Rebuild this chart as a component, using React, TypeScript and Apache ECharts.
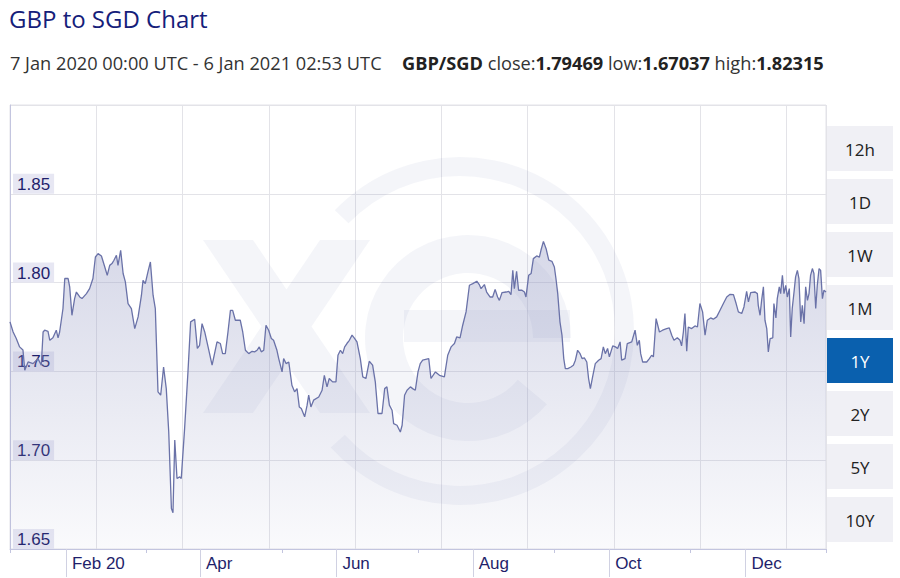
import React, { useEffect, useRef } from "react";
import * as echarts from "echarts";

// Days since 7 Jan 2020 00:00 UTC
const days = [
  0, 1.4, 2.8, 4.3, 5.8, 6.6, 8.1, 10.3, 12.5, 14.0, 14.8, 15.5, 17.0, 17.8, 19.2, 20.7, 21.5, 22.2,
  23.7, 24.5, 26.0, 26.7, 27.7, 28.9, 29.7, 31.2, 32.2, 34.2, 35.6, 37.1, 38.2, 39.4, 40.9, 42.4,
  43.5, 44.6, 45.6, 46.5, 47.6, 48.3, 49.5, 50.6, 51.6, 52.8, 54.3, 55.8, 57.3, 58.8, 59.5, 60.5,
  61.7, 62.8, 64.0, 65.0, 66.2, 67.4, 68.7, 69.9, 71.0, 72.2, 72.9, 73.7, 74.7, 75.9, 76.6, 78.1,
  79.6, 80.8, 82.6, 83.8, 84.8, 85.9, 87.1, 88.6, 90.4,
  92.6, 94.1, 95.1, 96.3, 97.5, 98.6, 99.6, 100.8, 103.0, 104.1, 105.3, 106.8, 108.3, 109.4, 110.5,
  111.5, 112.4, 113.5, 114.5, 115.7, 116.9, 117.9, 119.4, 120.2, 121.7, 122.4, 123.5, 124.7, 126.1,
  127.3, 128.4, 129.4, 130.3, 131.8, 132.9, 133.6, 134.6, 135.8, 138.1, 139.6, 140.6, 141.8, 142.8,
  144.3, 145.8, 146.7, 147.8, 148.8, 149.7, 150.7, 151.8, 153.0, 154.2, 155.2, 156.7, 157.8, 159.2,
  160.7, 162.2, 163.4, 164.6, 166.4, 167.6, 168.6, 169.7, 170.9, 171.6, 173.1, 174.6, 175.4, 176.5,
  177.6, 179.1, 180.1, 181.3,
  182.5, 183.5, 184.6, 187.3, 188.3, 190.3, 192.1, 194.3, 195.8, 197.3, 198.8, 199.8, 201.3, 202.5,
  204.0, 205.5, 207.0, 208.8, 209.9, 210.7, 212.2, 213.2, 214.7, 215.9, 217.0, 218.1, 218.9, 220.1,
  221.9, 223.1, 224.1, 224.9, 225.6, 226.6, 227.5, 229.0, 230.1, 230.8, 232.0, 233.1, 234.1, 235.6,
  236.8, 237.5, 238.6, 239.8, 241.0, 242.4, 243.5, 244.2, 245.0, 246.0, 246.9, 247.7, 248.4, 249.5,
  250.9, 252.0, 252.9, 253.9, 255.0, 255.9, 256.9, 258.0, 258.8, 259.6, 260.6, 261.8, 263.3, 264.4,
  265.4, 266.3, 267.3, 268.1, 269.6, 270.8, 271.8, 272.9,
  273.6, 275.1, 276.1, 278.1, 279.6, 280.6, 281.5, 282.1, 283.0, 284.8, 286.0, 287.0, 287.8, 289.0,
  290.5, 291.9, 293.7, 294.9, 296.0, 297.0, 298.5, 299.7, 300.4, 301.2, 301.9, 302.7, 303.4, 304.9,
  306.4, 307.5, 308.6, 309.8, 310.9, 311.9, 313.4, 314.6, 316.1, 317.6, 319.1, 320.6, 322.1, 323.6,
  324.8, 325.8, 327.3, 328.3, 329.5, 330.3, 331.3, 333.3, 334.3, 334.7, 335.5, 336.2, 337.0, 337.7,
  338.5, 339.2, 340.0, 341.2, 341.7, 342.6, 343.2, 344.1, 344.7, 345.5, 346.2, 347.0, 347.7, 348.6,
  349.2, 349.9, 350.7, 351.4, 352.2, 352.9, 353.7, 354.4, 355.2, 355.9, 356.7, 357.4, 358.1, 358.9,
  359.6, 360.4, 361.1, 361.9, 362.6, 363.4, 364.1, 365.0,
];

const rates = [
  1.7779, 1.7722, 1.7685, 1.7638, 1.762, 1.7507, 1.7553, 1.7544, 1.7572, 1.7535, 1.7722, 1.7732, 1.7726, 1.7675, 1.7689, 1.7732, 1.7689, 1.7722,
  1.7854, 1.8023, 1.8023, 1.7976, 1.7816, 1.791, 1.7947, 1.7919, 1.791, 1.7938, 1.7966, 1.8023, 1.8144, 1.8163, 1.815, 1.8088,
  1.8041, 1.8097, 1.8107, 1.8126, 1.8154, 1.8097, 1.8182, 1.8051, 1.8004, 1.7882, 1.7854, 1.7741, 1.7807, 1.7929, 1.8013, 1.7994,
  1.806, 1.8116, 1.7929, 1.7854, 1.7385, 1.7366, 1.7525, 1.7403, 1.716, 1.6728, 1.6704, 1.7113, 1.6897, 1.6906, 1.6897, 1.7178,
  1.7497, 1.7779, 1.7794, 1.7629, 1.7647, 1.7769, 1.7722, 1.7638, 1.7535,
  1.7666, 1.7657, 1.76, 1.76, 1.7722, 1.7844, 1.7844, 1.7788, 1.7788, 1.7722, 1.7619, 1.76, 1.7613, 1.761, 1.7619,
  1.7638, 1.761, 1.7619, 1.776, 1.7732, 1.7685, 1.7675, 1.7619, 1.7572, 1.7497, 1.7572, 1.7544, 1.7553, 1.7422,
  1.7385, 1.7403, 1.73, 1.7291, 1.7244, 1.731, 1.7366, 1.73, 1.7338, 1.7356, 1.7394, 1.7478, 1.7413, 1.746,
  1.7441, 1.7441, 1.7591, 1.7619, 1.76, 1.7638, 1.7657, 1.7675, 1.7704, 1.7685, 1.7666, 1.7572, 1.7469, 1.746,
  1.7557, 1.7535, 1.7441, 1.7263, 1.7263, 1.7403, 1.7413, 1.731, 1.7281, 1.7206, 1.7197, 1.7159, 1.7197, 1.7366,
  1.7394, 1.7413, 1.7403, 1.7394,
  1.7497, 1.7544, 1.7563, 1.7572, 1.746, 1.7497, 1.7478, 1.7469, 1.7591, 1.7638, 1.7657, 1.7694, 1.7689, 1.776,
  1.7835, 1.7985, 1.7994, 1.8008, 1.7989, 1.7966, 1.7989, 1.7947, 1.7919, 1.7919, 1.7962, 1.7919, 1.79, 1.7944,
  1.7947, 1.7951, 1.7932, 1.8069, 1.7966, 1.8064, 1.7957, 1.7957, 1.7947, 1.7919, 1.8041, 1.8051, 1.8135, 1.815,
  1.8144, 1.8182, 1.8232, 1.8191, 1.8126, 1.812, 1.8088, 1.8023, 1.7938, 1.7779, 1.7704, 1.7572, 1.7516, 1.7516,
  1.7525, 1.7535, 1.7563, 1.7619, 1.76, 1.7572, 1.7576, 1.7553, 1.746, 1.7403, 1.7469, 1.7544, 1.7563, 1.7572,
  1.7638, 1.76, 1.7629, 1.7582, 1.7644, 1.7638, 1.7629, 1.7666,
  1.7563, 1.7572, 1.7657, 1.7666, 1.7732, 1.7647, 1.7675, 1.76, 1.7553, 1.7553, 1.7572, 1.7591, 1.7582, 1.7797,
  1.7722, 1.7732, 1.7741, 1.7745, 1.7704, 1.7675, 1.7689, 1.7675, 1.7644, 1.7722, 1.7826, 1.7613, 1.775, 1.7741,
  1.7756, 1.775, 1.7882, 1.7835, 1.7704, 1.7788, 1.7801, 1.7794, 1.7807, 1.7844, 1.7882, 1.7919, 1.7934, 1.7932,
  1.7882, 1.7835, 1.7826, 1.7863, 1.7951, 1.7891, 1.7944, 1.7947, 1.7938, 1.7872, 1.7816, 1.79, 1.7976, 1.7788,
  1.7741, 1.761, 1.7685, 1.7689, 1.7882, 1.7801, 1.791, 1.7976, 1.7938, 1.8041, 1.7938, 1.7985, 1.7919, 1.7966,
  1.7694, 1.7854, 1.7947, 1.8032, 1.8069, 1.8023, 1.7779, 1.7872, 1.7769, 1.7976, 1.79, 1.7938, 1.8041, 1.8079,
  1.8051, 1.7854, 1.7985, 1.8079, 1.8069, 1.791, 1.7957, 1.7947,
];

const monthTickDays = [25, 85, 146, 207, 268, 329];
const monthLabels = ["Feb 20", "Apr", "Jun", "Aug", "Oct", "Dec"];
const rangeButtons = ["12h", "1D", "1W", "1M", "1Y", "2Y", "5Y", "10Y"];
const selectedRange = "1Y";

const TITLE = "GBP to SGD Chart";
const PERIOD = "7 Jan 2020 00:00 UTC - 6 Jan 2021 02:53 UTC";
const PAIR = "GBP/SGD";
const CLOSE = "1.79469";
const LOW = "1.67037";
const HIGH = "1.82315";

export default function App() {
  const ref = useRef<HTMLDivElement>(null);

  useEffect(() => {
    if (!ref.current) return;
    const chart = echarts.init(ref.current, null, { renderer: "svg" });
    const wm = "rgba(90,100,160,0.065)";
    const deg = Math.PI / 180;

    const buttons: any[] = [];
    rangeButtons.forEach((b, i) => {
      const y = 126 + i * 53;
      const sel = b === selectedRange;
      buttons.push({
        type: "rect",
        shape: { x: 827, y, width: 66, height: 45 },
        style: { fill: sel ? "#0a60ae" : "#f0f0f5" },
        z: 10,
      });
      buttons.push({
        type: "text",
        x: 860,
        y: y + 23,
        style: {
          text: b,
          align: "center",
          verticalAlign: "middle",
          fontSize: 17,
          fontFamily: "Open Sans",
          fill: sel ? "#ffffff" : "#222222",
        },
        z: 11,
      });
    });

    chart.setOption({
      animation: false,
      title: [
        {
          text: TITLE,
          left: 9,
          top: 6,
          padding: 0,
          textStyle: { fontSize: 24, fontWeight: "normal", color: "#15207a", fontFamily: "Open Sans" },
        },
        {
          text: PERIOD,
          left: 10,
          top: 54,
          padding: 0,
          textStyle: { fontSize: 18.2, fontWeight: "normal", color: "#333333", fontFamily: "Open Sans" },
        },
        {
          text: `{b|${PAIR}} close:{b|${CLOSE}} low:{b|${LOW}} high:{b|${HIGH}}`,
          left: 402,
          top: 54,
          padding: 0,
          textStyle: {
            fontSize: 18.2,
            fontWeight: "normal",
            color: "#333333",
            fontFamily: "Open Sans",
            rich: {
              b: { fontSize: 18.2, fontWeight: "bold", color: "#222222", fontFamily: "Open Sans" },
            },
          },
        },
      ],
      grid: {
        left: 10,
        right: 74,
        top: 105,
        bottom: 29,
        show: true,
        borderColor: "#e3e3e8",
        borderWidth: 1,
        backgroundColor: "transparent",
      },
      xAxis: [
        {
          type: "value",
          min: 0,
          max: 365,
          position: "bottom",
          axisLine: { show: true, lineStyle: { color: "#c3c5df", width: 1 } },
          axisTick: {
            show: true,
            customValues: monthTickDays,
            length: 28,
            lineStyle: { color: "#d0d1e2" },
          },
          axisLabel: {
            show: true,
            customValues: monthTickDays,
            formatter: (v: number) => {
              const i = monthTickDays.indexOf(Math.round(v));
              return i >= 0 ? monthLabels[i] : "";
            },
            align: "left",
            padding: [0, 0, 0, 6],
            margin: 6,
            fontSize: 17,
            fontFamily: "Liberation Sans",
            color: "#1f1f6b",
          },
          splitLine: { show: false },
        },
        {
          type: "value",
          min: 0,
          max: 6,
          interval: 1,
          position: "bottom",
          axisLine: { show: false },
          axisTick: { show: true, length: 4, lineStyle: { color: "#c3c5df" } },
          axisLabel: { show: false },
          splitLine: { show: false },
        },
        {
          type: "value",
          min: 0,
          max: 816 / 86.25,
          interval: 1,
          position: "bottom",
          axisLine: { show: false },
          axisTick: { show: false },
          axisLabel: { show: false },
          splitLine: { show: true, lineStyle: { color: "#e3e3e8", width: 1 } },
        },
      ],
      yAxis: {
        type: "value",
        min: 1.65,
        max: 1.9,
        interval: 0.05,
        axisLine: { show: true, lineStyle: { color: "#c3c5df" } },
        axisTick: { show: false },
        splitLine: { show: true, lineStyle: { color: "#e3e3e8", width: 1 } },
        axisLabel: {
          inside: true,
          showMaxLabel: false,
          verticalAlign: "bottom",
          formatter: (v: number) => v.toFixed(2),
          backgroundColor: "#e7e7f3",
          padding: [2, 4, 1, 4],
          margin: 3,
          fontSize: 17,
          fontFamily: "Liberation Sans",
          color: "#1f1f6b",
        },
      },
      graphic: [
        {
          type: "sector",
          shape: { cx: 460, cy: 331, r: 174, r0: 155, startAngle: -136 * deg, endAngle: 138 * deg, clockwise: true },
          style: { fill: wm },
          z: 1,
          silent: true,
        },
        {
          type: "sector",
          shape: { cx: 468, cy: 338, r: 103, r0: 65, startAngle: 40 * deg, endAngle: 360 * deg, clockwise: true },
          style: { fill: wm },
          z: 1,
          silent: true,
        },
        {
          type: "rect",
          shape: { x: 404, y: 310, width: 166, height: 32 },
          style: { fill: wm },
          z: 1,
          silent: true,
        },
        {
          type: "polygon",
          shape: {
            points: [
              [203, 240], [253, 240], [286.5, 289.5], [320, 240], [370, 240], [311.5, 326.5],
              [370, 413], [320, 413], [286.5, 363.5], [253, 413], [203, 413], [261.5, 326.5],
            ],
          },
          style: { fill: wm },
          z: 1,
          silent: true,
        },
        ...buttons,
      ],
      series: [
        {
          type: "line",
          xAxisIndex: 0,
          data: days.map((d, i) => [d, rates[i]]),
          showSymbol: false,
          symbol: "none",
          lineStyle: { color: "#6a72a8", width: 1.3 },
          areaStyle: {
            origin: "start",
            color: new echarts.graphic.LinearGradient(0, 0, 0, 1, [
              { offset: 0, color: "rgba(150,155,196,0.55)" },
              { offset: 1, color: "rgba(150,155,196,0.07)" },
            ]),
          },
          z: 2,
        },
      ],
    });

    return () => chart.dispose();
  }, []);

  return (
    <div
      ref={ref}
      style={{ position: "fixed", left: 0, top: 0, width: 900, height: 578, background: "#ffffff" }}
    />
  );
}
